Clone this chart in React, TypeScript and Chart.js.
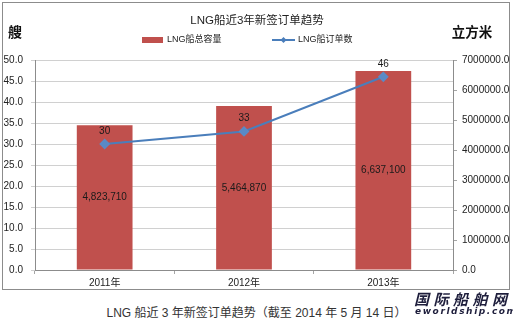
import React, { useEffect, useRef } from "react";
import { Chart, registerables } from "chart.js";

Chart.register(...registerables);

const categories = ["2011年", "2012年", "2013年"];
const capacityValues = [4823710, 5464870, 6637100];
const orderCounts = [30, 33, 46];
const leftAxisRange = [0, 50, 5];
const rightAxisRange = [0, 7000000, 1000000];

const titleText = "LNG船近3年新签订单趋势";
const barSeriesName = "LNG船总容量";
const lineSeriesName = "LNG船订单数";
const leftAxisTitle = "艘";
const rightAxisTitle = "立方米";
const captionText = "LNG 船近 3 年新签订单趋势（截至 2014 年 5 月 14 日）";
const logoText = "国际船舶网";
const logoSub = "eworldship.com";

const FONT = "'Liberation Sans', 'Noto Sans CJK SC', sans-serif";
const BAR_COLOR = "#C0504D";
const LINE_COLOR = "#4A7EBB";

const decorPlugin = {
  id: "decor",
  beforeDraw(chart: any) {
    const ctx = chart.ctx;
    ctx.save();
    ctx.fillStyle = "#ffffff";
    ctx.fillRect(0, 0, chart.width, chart.height);
    ctx.restore();
  },
  afterDatasetsDraw(chart: any) {
    const ctx = chart.ctx;
    ctx.save();
    ctx.font = `10px ${FONT}`;
    ctx.textAlign = "center";
    ctx.textBaseline = "middle";
    ctx.fillStyle = "#1a1a1a";
    const barMeta = chart.getDatasetMeta(0);
    barMeta.data.forEach((bar: any, i: number) => {
      const label = capacityValues[i].toLocaleString("en-US");
      ctx.fillText(label, bar.x, (bar.y + bar.base) / 2);
    });
    const lineMeta = chart.getDatasetMeta(1);
    lineMeta.data.forEach((pt: any, i: number) => {
      ctx.fillText(String(orderCounts[i]), pt.x, pt.y - 13);
    });
    ctx.restore();
  },
  afterDraw(chart: any) {
    const ctx = chart.ctx;
    ctx.save();
    ctx.strokeStyle = "#8c8c8c";
    ctx.lineWidth = 1;
    ctx.strokeRect(2.5, 2.5, 507, 287);

    ctx.fillStyle = "#222";
    ctx.textBaseline = "middle";
    ctx.textAlign = "center";
    ctx.font = `11.5px ${FONT}`;
    ctx.fillText(titleText, 257, 21);

    // legend
    ctx.fillStyle = BAR_COLOR;
    ctx.fillRect(142, 37, 21, 6);
    ctx.fillStyle = "#222";
    ctx.textAlign = "left";
    ctx.font = `9px ${FONT}`;
    ctx.fillText(barSeriesName, 167, 40);

    ctx.strokeStyle = LINE_COLOR;
    ctx.lineWidth = 2;
    ctx.beginPath();
    ctx.moveTo(272, 40);
    ctx.lineTo(295, 40);
    ctx.stroke();
    ctx.fillStyle = LINE_COLOR;
    ctx.beginPath();
    ctx.moveTo(283.5, 37);
    ctx.lineTo(286.5, 40);
    ctx.lineTo(283.5, 43);
    ctx.lineTo(280.5, 40);
    ctx.closePath();
    ctx.fill();
    ctx.fillStyle = "#222";
    ctx.fillText(lineSeriesName, 298, 40);

    // axis titles
    ctx.textAlign = "center";
    ctx.fillStyle = "#111";
    ctx.font = `bold 14px ${FONT}`;
    ctx.fillText(leftAxisTitle, 15, 33);
    ctx.font = `bold 13.5px ${FONT}`;
    ctx.fillText(rightAxisTitle, 472, 33);
    ctx.restore();
  },
};

export default function App() {
  const canvasRef = useRef<HTMLCanvasElement | null>(null);

  useEffect(() => {
    if (!canvasRef.current) return;
    const chart = new Chart(canvasRef.current, {
      type: "bar",
      data: {
        labels: categories,
        datasets: [
          {
            type: "bar",
            label: barSeriesName,
            data: capacityValues,
            backgroundColor: BAR_COLOR,
            borderWidth: 0,
            yAxisID: "y1",
            barPercentage: 0.4,
            categoryPercentage: 1,
            order: 2,
          } as any,
          {
            type: "line",
            label: lineSeriesName,
            data: orderCounts,
            borderColor: LINE_COLOR,
            backgroundColor: LINE_COLOR,
            borderWidth: 2,
            pointStyle: "rectRot",
            pointRadius: 4,
            pointBackgroundColor: "#5a8ac6",
            pointBorderColor: "#5a8ac6",
            tension: 0,
            yAxisID: "y",
            order: 1,
          } as any,
        ],
      },
      options: {
        animation: false,
        responsive: false,
        devicePixelRatio: 1,
        layout: { padding: { top: 60, left: 0, right: 0, bottom: 0 } },
        plugins: {
          legend: { display: false },
          title: { display: false },
          tooltip: { enabled: false },
        },
        scales: {
          x: {
            offset: true,
            grid: {
              offset: true,
              drawOnChartArea: false,
              drawTicks: true,
              tickLength: 4,
              color: "#a6a6a6",
            },
            border: { color: "#8c8c8c" },
            ticks: {
              color: "#222",
              font: { family: FONT, size: 10 },
              padding: 3,
            },
            afterFit(scale: any) {
              scale.height = 25;
            },
          },
          y: {
            position: "left",
            min: leftAxisRange[0],
            max: leftAxisRange[1],
            grid: {
              color: "#d0d0d0",
              drawTicks: true,
              tickLength: 4,
            },
            border: { color: "#8c8c8c" },
            ticks: {
              stepSize: leftAxisRange[2],
              color: "#222",
              font: { family: FONT, size: 10 },
              padding: 8,
              callback: (v: any) => Number(v).toFixed(1),
            },
            afterFit(scale: any) {
              scale.width = 35;
            },
          },
          y1: {
            position: "right",
            min: rightAxisRange[0],
            max: rightAxisRange[1],
            grid: {
              drawOnChartArea: false,
              drawTicks: true,
              tickLength: 4,
              color: "#a6a6a6",
            },
            border: { color: "#8c8c8c" },
            ticks: {
              stepSize: rightAxisRange[2],
              color: "#222",
              font: { family: FONT, size: 10 },
              padding: 5,
              callback: (v: any) => Number(v).toFixed(1),
            },
            afterFit(scale: any) {
              scale.width = 60;
            },
          },
        },
      } as any,
      plugins: [decorPlugin],
    });
    return () => chart.destroy();
  }, []);

  return (
    <div
      style={{
        position: "absolute",
        left: 0,
        top: 0,
        width: 513,
        height: 323,
        background: "#fff",
        overflow: "hidden",
      }}
    >
      <canvas
        ref={canvasRef}
        width={513}
        height={295}
        style={{ display: "block", width: 513, height: 295 }}
      />
      <div
        style={{
          position: "absolute",
          left: 0,
          top: 304,
          width: 513,
          textAlign: "center",
          font: `12px ${FONT}`,
          lineHeight: "18px",
          color: "#333",
        }}
      >
        {captionText}
      </div>
      <div
        style={{
          position: "absolute",
          left: 414,
          top: 291,
          font: `italic bold 15px 'Noto Sans CJK SC', sans-serif`,
          letterSpacing: "4.5px",
          lineHeight: "15px",
          color: "#1e1e3c",
          whiteSpace: "nowrap",
        }}
      >
        {logoText}
      </div>
      <div
        style={{
          position: "absolute",
          left: 415,
          top: 306,
          font: `italic bold 9px 'DejaVu Sans', sans-serif`,
          letterSpacing: "1.6px",
          lineHeight: "10px",
          color: "#1e1e3c",
          whiteSpace: "nowrap",
        }}
      >
        {logoSub}
      </div>
    </div>
  );
}
